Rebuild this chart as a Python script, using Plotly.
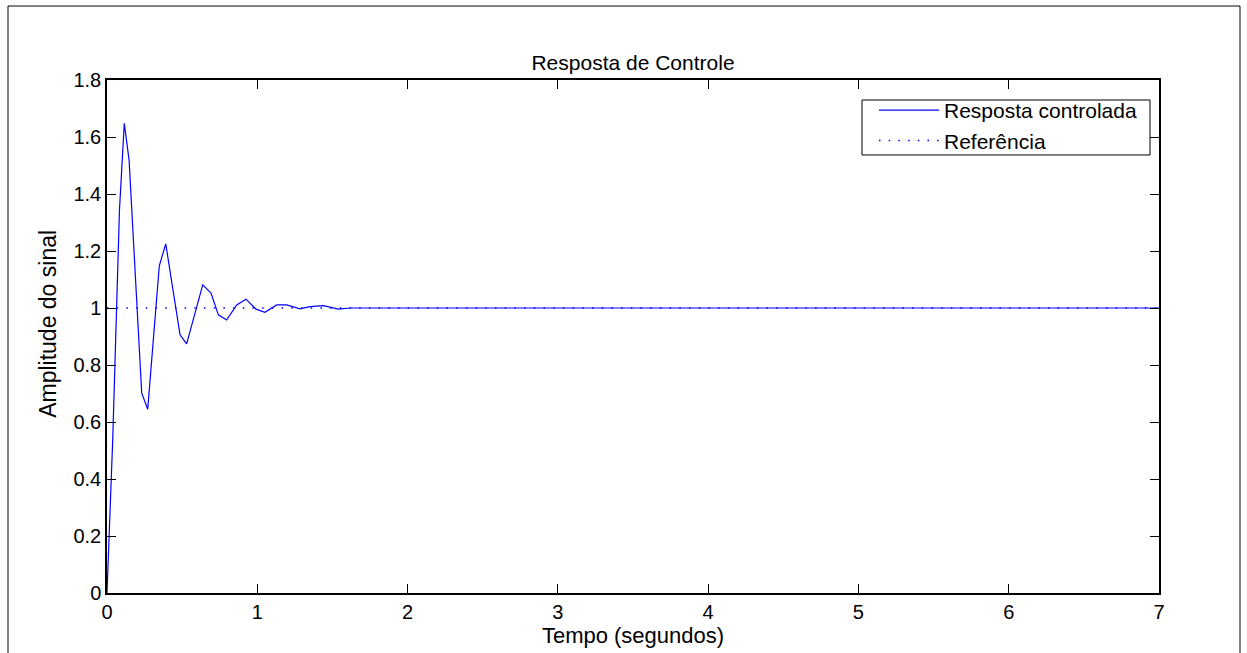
import plotly.graph_objects as go

# Controlled response
t_resp = [0.0, 0.038, 0.083, 0.115, 0.147, 0.231, 0.271, 0.348, 0.391, 0.486, 0.530,
          0.637, 0.692, 0.741, 0.796, 0.863, 0.925, 0.991, 1.051, 1.129, 1.196, 1.251,
          1.284, 1.351, 1.440, 1.540, 1.617, 2.5, 3.5, 4.5, 5.5, 6.5, 7.0]
y_resp = [0.0, 0.537, 1.344, 1.648, 1.519, 0.701, 0.645, 1.148, 1.225, 0.906, 0.874,
          1.081, 1.052, 0.976, 0.958, 1.011, 1.031, 0.996, 0.985, 1.011, 1.011, 1.003,
          0.997, 1.005, 1.008, 0.996, 1.0, 1.0, 1.0, 1.0, 1.0, 1.0, 1.0]

# Reference signal
t_ref = [0.0, 7.0]
y_ref = [1.0, 1.0]

x_ticks = [0, 1, 2, 3, 4, 5, 6, 7]
y_ticks = [0, 0.2, 0.4, 0.6, 0.8, 1.0, 1.2, 1.4, 1.6, 1.8]
y_tick_text = ["0", "0.2", "0.4", "0.6", "0.8", "1", "1.2", "1.4", "1.6", "1.8"]

FONT = "Liberation Sans, Arial, Helvetica, sans-serif"

# plot area in pixels (for converting legend/frame positions to paper coords)
L, R, T, B = 107, 1159, 80, 593.3
W, H = R - L, B - T


def px(x):
    return (x - L) / W


def py(y):
    return (B - y) / H


fig = go.Figure()
fig.add_trace(go.Scatter(x=t_resp, y=y_resp, mode="lines", name="Resposta controlada",
                         line=dict(color="#0000ff", width=1.2)))
fig.add_trace(go.Scatter(x=t_ref, y=y_ref, mode="lines", name="Referência",
                         line=dict(color="#0000ff", width=1.5, dash="1.5px,8.2px")))

axis_common = dict(showgrid=False, zeroline=False, showline=True, linecolor="black",
                   linewidth=1.5, mirror="ticks", ticks="inside", ticklen=9,
                   tickcolor="black", tickwidth=1,
                   tickfont=dict(family=FONT, size=20, color="black"))

fig.update_layout(
    width=1247, height=653,
    margin=dict(l=L, r=1247 - R, t=T, b=60),
    paper_bgcolor="white", plot_bgcolor="white",
    title=dict(text="Resposta de Controle", x=0.5, xref="paper", xanchor="center",
               y=1.0, yref="paper", yanchor="bottom", pad=dict(b=10),
               font=dict(family=FONT, size=21, color="black")),
    xaxis=dict(range=[0, 7], tickvals=x_ticks,
               title=dict(text="Tempo (segundos)", standoff=0,
                          font=dict(family=FONT, size=22, color="black")),
               **axis_common),
    yaxis=dict(range=[0, 1.8], tickvals=y_ticks, ticktext=y_tick_text,
               **axis_common),
    legend=dict(x=px(874), y=py(90), xanchor="left", yanchor="top",
                borderwidth=0, bgcolor="rgba(0,0,0,0)",
                font=dict(family=FONT, size=21, color="black"),
                itemwidth=60, tracegroupgap=0),
    showlegend=True,
)

# y-axis title
fig.add_annotation(text="Amplitude do sinal", xref="paper", yref="paper",
                   x=px(48), y=py(324), xanchor="center", yanchor="middle",
                   textangle=-90, showarrow=False,
                   font=dict(family=FONT, size=23, color="black"))

# legend box
fig.add_shape(type="rect", xref="paper", yref="paper",
              x0=px(862), x1=px(1150), y0=py(155), y1=py(100),
              line=dict(color="black", width=1), fillcolor="white", layer="above")

# outer figure frame
fig.add_shape(type="rect", xref="paper", yref="paper",
              x0=px(8), x1=px(1240), y0=-0.3, y1=py(6),
              line=dict(color="black", width=1), layer="below")

fig.write_html("out.html")
